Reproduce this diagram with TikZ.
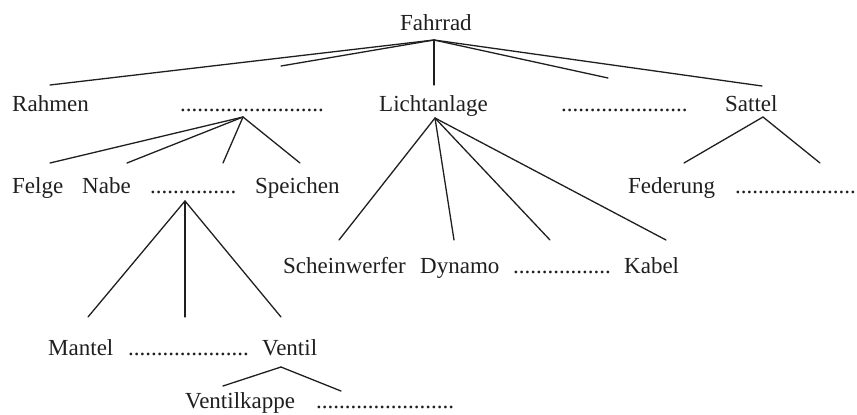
\documentclass[tikz,border=0pt]{standalone}
\usepackage{fontspec}
\setmainfont{Liberation Serif}
\begin{document}
\begin{tikzpicture}[x=1pt,y=-1pt,
  lbl/.style={anchor=base west,inner sep=0pt,text=black!88,font=\fontsize{23}{27}\selectfont},
  con/.style={line width=1.3pt,draw=black!88,line cap=round}]
\useasboundingbox (0,0) rectangle (857,415);
% level 0
\node[lbl] (fahrrad) at (400,30) {Fahrrad};
% level 1
\node[lbl] (rahmen) at (12,111) {Rahmen};
\node[lbl] (dA) at (180,111) {.........................};
\node[lbl] (licht) at (379,111) {Lichtanlage};
\node[lbl] (dB) at (561,111) {......................};
\node[lbl] (sattel) at (725,111) {Sattel};
% level 2
\node[lbl] (felge) at (12,193) {Felge};
\node[lbl] (nabe) at (82,193) {Nabe};
\node[lbl] (dC) at (150,193) {...............};
\node[lbl] (speichen) at (255,193) {Speichen};
\node[lbl] (schein) at (283,273) {Scheinwerfer};
\node[lbl] (dynamo) at (420,273) {Dynamo};
\node[lbl] (dD) at (513,273) {.................};
\node[lbl] (kabel) at (624,273) {Kabel};
\node[lbl] (federung) at (628,193) {Federung};
\node[lbl] (dE) at (735,193) {.....................};
% level 3
\node[lbl] (mantel) at (48,355) {Mantel};
\node[lbl] (dF) at (128,355) {.....................};
\node[lbl] (ventil) at (262,355) {Ventil};
% level 4
\node[lbl] (kappe) at (185,408) {Ventilkappe};
\node[lbl] (dG) at (316,408) {........................};
% connector points
\coordinate (fahrradB) at (434,40);
\coordinate (rahmenT) at (50,85);
\coordinate (dAT) at (281,66);
\coordinate (lichtT) at (434,85);
\coordinate (dBT) at (608,78);
\coordinate (sattelT) at (762,86);
\coordinate (dAB) at (243,117);
\coordinate (felgeT) at (50,163);
\coordinate (nabeT) at (127,163);
\coordinate (dCT) at (223,163);
\coordinate (speichenT) at (300,163);
\coordinate (lichtB) at (435,118);
\coordinate (scheinT) at (339,240);
\coordinate (dynamoT) at (454,240);
\coordinate (dDT) at (550,240);
\coordinate (kabelT) at (666,240);
\coordinate (sattelB) at (763,117);
\coordinate (federungT) at (684,163);
\coordinate (dET) at (820,163);
\coordinate (dCB) at (185,201);
\coordinate (mantelT) at (88,317);
\coordinate (dFT) at (185,317);
\coordinate (ventilT) at (281,317);
\coordinate (ventilB) at (281,367);
\coordinate (kappeT) at (223,386);
\coordinate (dGT) at (341,391);
% connectors
\foreach \t in {rahmenT,dAT,lichtT,dBT,sattelT} \draw[con] (fahrradB) -- (\t);
\foreach \t in {felgeT,nabeT,dCT,speichenT} \draw[con] (dAB) -- (\t);
\foreach \t in {scheinT,dynamoT,dDT,kabelT} \draw[con] (lichtB) -- (\t);
\foreach \t in {federungT,dET} \draw[con] (sattelB) -- (\t);
\foreach \t in {mantelT,dFT,ventilT} \draw[con] (dCB) -- (\t);
\foreach \t in {kappeT,dGT} \draw[con] (ventilB) -- (\t);
\end{tikzpicture}
\end{document}
